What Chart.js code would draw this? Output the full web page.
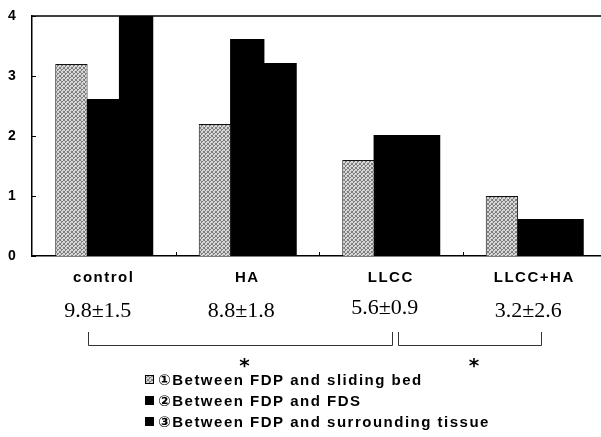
<!DOCTYPE html>
<html>
<head>
<meta charset="utf-8">
<script src="https://cdn.jsdelivr.net/npm/chart.js@4.4.1/dist/chart.umd.min.js"></script>
<style>
  html, body { margin: 0; padding: 0; background: #fff; overflow: hidden; }
  #wrap { width: 608px; height: 437px; }
</style>
</head>
<body>
<div id="wrap"><canvas id="grafica" width="608" height="437"></canvas></div>
<script>
// data
const categorias = ['control', 'HA', 'LLCC', 'LLCC+HA'];
const nombresSeries = ['①Between FDP and sliding bed', '②Between FDP and FDS', '③Between FDP and surrounding tissue'];
const lechoDeslizante = [3.2, 2.2, 1.6, 1.0];
const entreFDS = [2.6, 3.6, 2.0, 0.6];
const tejidoCircundante = [4.0, 3.2, 2.0, 0.6];
const puntuaciones = ['9.8±1.5', '8.8±1.8', '5.6±0.9', '3.2±2.6'];
const marcasY = [0, 1, 2, 3, 4];
const comparaciones = [[0, 2, '*'], [2, 3, '*']];

function crearTrama() {
    const c = document.createElement('canvas');
    c.width = 4; c.height = 4;
    const g = c.getContext('2d');
    g.fillStyle = '#d6d6d6';
    g.fillRect(0, 0, 4, 4);
    g.fillStyle = '#808080';
    [[0,0],[2,1],[1,2],[3,3],[3,0],[1,1],[0,3]].forEach(p => g.fillRect(p[0], p[1], 1, 1));
    return document.getElementById('grafica').getContext('2d').createPattern(c, 'repeat');
}
const trama = crearTrama();

const textoSans = 'bold 15px "Liberation Sans", Arial, "DejaVu Sans", sans-serif';

const extras = {
    id: 'extras',
    afterDraw(chart) {
        const ctx = chart.ctx;
        const area = chart.chartArea;
        const x = chart.scales.x;
        const y = chart.scales.y;
        ctx.save();
        ctx.strokeStyle = '#000';
        ctx.lineWidth = 1.5;
        // top frame line
        ctx.beginPath();
        ctx.moveTo(area.left, area.top);
        ctx.lineTo(chart.width, area.top);
        ctx.stroke();
        // inner tick marks
        ctx.lineWidth = 1;
        marcasY.forEach(v => {
            const py = Math.round(y.getPixelForValue(v)) + 0.5;
            ctx.beginPath();
            ctx.moveTo(area.left, py);
            ctx.lineTo(area.left + 4, py);
            ctx.stroke();
        });
        for (let i = 1; i < categorias.length; i++) {
            const px = Math.round((x.getPixelForValue(i - 1) + x.getPixelForValue(i)) / 2) + 0.5;
            ctx.beginPath();
            ctx.moveTo(px, area.bottom);
            ctx.lineTo(px, area.bottom - 4);
            ctx.stroke();
        }

        // category names
        ctx.fillStyle = '#000';
        ctx.textAlign = 'center';
        ctx.textBaseline = 'alphabetic';
        ctx.font = textoSans;
        ctx.letterSpacing = '1.5px';
        categorias.forEach((c, i) => ctx.fillText(c, x.getPixelForValue(i), 282));

        // scores
        ctx.letterSpacing = '0px';
        ctx.font = '22px "Liberation Serif", "Times New Roman", serif';
        puntuaciones.forEach((s, i) => ctx.fillText(s, x.getPixelForValue(i) - 6, i === 2 ? 314 : 317));

        // brackets with asterisks
        ctx.strokeStyle = '#333';
        ctx.lineWidth = 1;
        const topB = 332, botB = 345;
        comparaciones.forEach(([a, b, marca], k) => {
            const x1 = Math.round(x.getPixelForValue(a) + (k === 0 ? -16 : 7)) + 0.5;
            const x2 = Math.round(x.getPixelForValue(b) + (k === 0 ? 1 : 7)) + 0.5;
            ctx.beginPath();
            ctx.moveTo(x1, topB);
            ctx.lineTo(x1, botB + 0.5);
            ctx.lineTo(x2, botB + 0.5);
            ctx.lineTo(x2, topB);
            ctx.stroke();
            ctx.font = 'bold 20px "DejaVu Sans", sans-serif';
            ctx.fillText(marca, (x1 + x2) / 2 + 4, 372);
        });

        // legend
        ctx.textAlign = 'left';
        ctx.font = textoSans;
        ctx.letterSpacing = '1.5px';
        chart.data.datasets.forEach((d, i) => {
            const cy = 380 + i * 21;
            ctx.fillStyle = d.backgroundColor;
            ctx.fillRect(145, cy - 5, 9, 9);
            ctx.strokeStyle = '#000';
            ctx.strokeRect(145.5, cy - 4.5, 8, 8);
            ctx.fillStyle = '#000';
            ctx.fillText(d.label, 158, cy + 5);
        });
        ctx.restore();
    }
};

new Chart(document.getElementById('grafica'), {
    type: 'bar',
    data: {
        labels: categorias,
        datasets: [
            { label: nombresSeries[0], data: lechoDeslizante, backgroundColor: trama, borderColor: '#111', borderWidth: 1 },
            { label: nombresSeries[1], data: entreFDS, backgroundColor: '#000', borderWidth: 0, inflateAmount: 1 },
            { label: nombresSeries[2], data: tejidoCircundante, backgroundColor: '#000', borderWidth: 0, inflateAmount: 1 }
        ]
    },
    options: {
        responsive: false,
        animation: false,
        categoryPercentage: 0.676,
        barPercentage: 1,
        layout: { padding: { top: 16, right: 2, left: 8, bottom: 0 } },
        plugins: { legend: { display: false }, tooltip: { enabled: false } },
        scales: {
            x: {
                ticks: { display: false },
                grid: { display: false },
                border: { display: true, color: '#000', width: 1.5 },
                afterFit: s => { s.height = 181; }
            },
            y: {
                min: 0,
                max: 4,
                afterBuildTicks: s => { s.ticks = marcasY.map(v => ({ value: v })); },
                ticks: { color: '#000', padding: 0, crossAlign: 'far', font: { family: '"Liberation Sans", Arial, sans-serif', size: 14, weight: 'bold' } },
                grid: { display: false },
                border: { display: true, color: '#000', width: 1.5 },
                afterFit: s => { s.width = 24; }
            }
        }
    },
    plugins: [extras]
});
</script>
</body>
</html>
